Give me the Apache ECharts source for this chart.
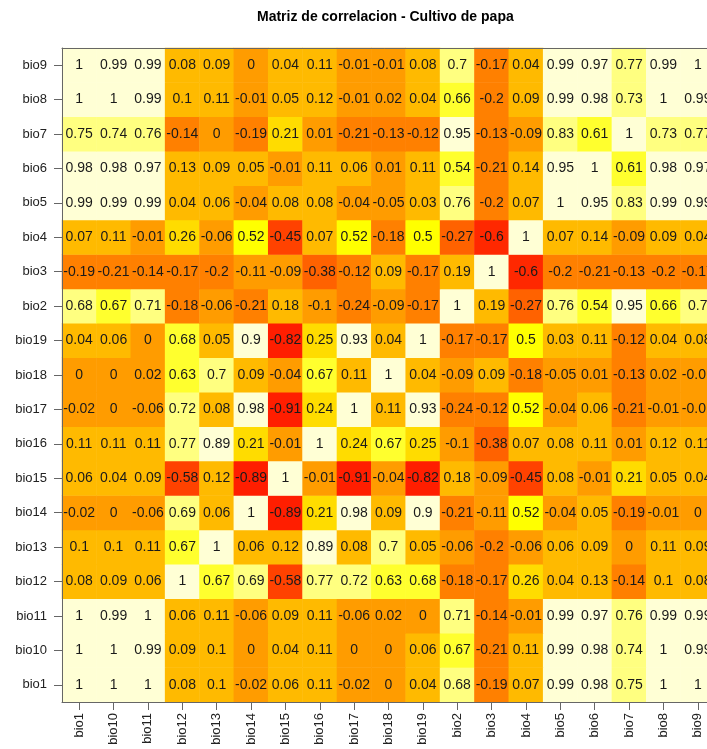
<!DOCTYPE html>
<html>
<head>
<meta charset="utf-8">
<script src="https://cdn.jsdelivr.net/npm/echarts@6/dist/echarts.min.js"></script>
<style>
html,body{margin:0;padding:0;background:#fff;}
#chart{width:707px;height:749px;}
</style>
</head>
<body>
<div id="chart"></div>
<script>
// Variable order (alphabetical, as in the reference); columns left->right, rows bottom->top
const categories = ['bio1','bio10','bio11','bio12','bio13','bio14','bio15','bio16','bio17','bio18','bio19','bio2','bio3','bio4','bio5','bio6','bio7','bio8','bio9'];

// Each row: correlations with the columns in `categories` order
const r_bio1  = [1, 1, 1, 0.08, 0.1, -0.02, 0.06, 0.11, -0.02, 0, 0.04, 0.683, -0.19, 0.07, 0.99, 0.98, 0.75, 1, 1];
const r_bio10 = [1, 1, 0.99, 0.09, 0.1, 0, 0.04, 0.11, 0, 0, 0.06, 0.67, -0.21, 0.11, 0.99, 0.98, 0.74, 1, 0.99];
const r_bio11 = [1, 0.99, 1, 0.06, 0.11, -0.06, 0.09, 0.11, -0.06, 0.02, 0, 0.71, -0.14, -0.01, 0.99, 0.97, 0.76, 0.99, 0.99];
const r_bio12 = [0.08, 0.09, 0.06, 1, 0.67, 0.69, -0.58, 0.77, 0.72, 0.63, 0.677, -0.18, -0.17, 0.26, 0.04, 0.13, -0.14, 0.1, 0.08];
const r_bio13 = [0.1, 0.1, 0.11, 0.67, 1, 0.06, 0.12, 0.89, 0.08, 0.7, 0.05, -0.06, -0.2, -0.06, 0.06, 0.09, 0, 0.11, 0.09];
const r_bio14 = [-0.02, 0, -0.06, 0.69, 0.06, 1, -0.89, 0.21, 0.98, 0.09, 0.9, -0.21, -0.11, 0.52, -0.04, 0.05, -0.19, -0.01, 0];
const r_bio15 = [0.06, 0.04, 0.09, -0.58, 0.12, -0.89, 1, -0.01, -0.91, -0.04, -0.82, 0.18, -0.09, -0.45, 0.08, -0.01, 0.21, 0.05, 0.04];
const r_bio16 = [0.11, 0.11, 0.11, 0.77, 0.89, 0.21, -0.01, 1, 0.24, 0.67, 0.25, -0.1, -0.38, 0.07, 0.08, 0.11, 0.01, 0.12, 0.11];
const r_bio17 = [-0.02, 0, -0.06, 0.72, 0.08, 0.98, -0.91, 0.24, 1, 0.11, 0.93, -0.24, -0.12, 0.52, -0.04, 0.06, -0.21, -0.01, -0.01];
const r_bio18 = [0, 0, 0.02, 0.63, 0.7, 0.09, -0.04, 0.67, 0.11, 1, 0.04, -0.09, 0.09, -0.18, -0.05, 0.01, -0.13, 0.02, -0.01];
const r_bio19 = [0.04, 0.06, 0, 0.677, 0.05, 0.9, -0.82, 0.25, 0.93, 0.04, 1, -0.17, -0.17, 0.5, 0.03, 0.11, -0.12, 0.04, 0.08];
const r_bio2  = [0.683, 0.67, 0.71, -0.18, -0.06, -0.21, 0.18, -0.1, -0.24, -0.09, -0.17, 1, 0.19, -0.27, 0.76, 0.54, 0.95, 0.66, 0.7];
const r_bio3  = [-0.19, -0.21, -0.14, -0.17, -0.2, -0.11, -0.09, -0.38, -0.12, 0.09, -0.17, 0.19, 1, -0.6, -0.2, -0.21, -0.13, -0.2, -0.17];
const r_bio4  = [0.07, 0.11, -0.01, 0.26, -0.06, 0.52, -0.45, 0.07, 0.52, -0.18, 0.5, -0.27, -0.6, 1, 0.07, 0.14, -0.09, 0.09, 0.04];
const r_bio5  = [0.99, 0.99, 0.99, 0.04, 0.06, -0.04, 0.08, 0.08, -0.04, -0.05, 0.03, 0.76, -0.2, 0.07, 1, 0.95, 0.83, 0.99, 0.99];
const r_bio6  = [0.98, 0.98, 0.97, 0.13, 0.09, 0.05, -0.01, 0.11, 0.06, 0.01, 0.11, 0.54, -0.21, 0.14, 0.95, 1, 0.61, 0.98, 0.97];
const r_bio7  = [0.75, 0.74, 0.76, -0.14, 0, -0.19, 0.21, 0.01, -0.21, -0.13, -0.12, 0.95, -0.13, -0.09, 0.83, 0.61, 1, 0.73, 0.77];
const r_bio8  = [1, 1, 0.99, 0.1, 0.11, -0.01, 0.05, 0.12, -0.01, 0.02, 0.04, 0.66, -0.2, 0.09, 0.99, 0.98, 0.73, 1, 0.99];
const r_bio9  = [1, 0.99, 0.99, 0.08, 0.09, 0, 0.04, 0.11, -0.01, -0.01, 0.08, 0.7, -0.17, 0.04, 0.99, 0.97, 0.77, 0.99, 1];

const rows = [r_bio1, r_bio10, r_bio11, r_bio12, r_bio13, r_bio14, r_bio15, r_bio16, r_bio17, r_bio18, r_bio19, r_bio2, r_bio3, r_bio4, r_bio5, r_bio6, r_bio7, r_bio8, r_bio9];

const data = [];
rows.forEach((row, yi) => row.forEach((v, xi) => data.push([xi, yi, v])));

function fmt(v){ const r = Math.round(v*100)/100; return String(r === 0 ? 0 : r); }

const chart = echarts.init(document.getElementById('chart'), null, {renderer:'canvas'});
const FONT = '"Liberation Sans", Arial, Helvetica, sans-serif';
chart.setOption({
  animation: false,
  backgroundColor: '#ffffff',
  title: {
    text: 'Matriz de correlacion - Cultivo de papa',
    left: 252, top: 5,
    textStyle: {fontFamily: FONT, fontSize: 14, fontWeight: 'bold', color: '#000'}
  },
  grid: {left: 62, top: 48, width: 653, height: 654, outerBoundsMode: 'none', containLabel: false},
  xAxis: [{
    type: 'category', data: categories, position: 'bottom', z: 10,
    axisLine: {show: true, lineStyle: {color: '#666', width: 1}},
    axisTick: {show: true, alignWithLabel: true, length: 8, lineStyle: {color: '#666'}},
    axisLabel: {rotate: 90, margin: 11, fontFamily: FONT, fontSize: 13, color: '#222', interval: 0},
    splitLine: {show: false}
  },{
    type: 'category', data: categories, position: 'top', z: 10,
    axisLine: {show: true, lineStyle: {color: '#666', width: 1}},
    axisTick: {show: false}, axisLabel: {show: false}, splitLine: {show: false}
  }],
  yAxis: {
    type: 'category', data: categories, z: 10,
    axisLine: {show: true, lineStyle: {color: '#666', width: 1}},
    axisTick: {show: true, alignWithLabel: true, length: 8, lineStyle: {color: '#666'}},
    axisLabel: {margin: 15, fontFamily: FONT, fontSize: 13, color: '#222', interval: 0},
    splitLine: {show: false}
  },
  visualMap: {
    type: 'piecewise', show: false, dimension: 2, seriesIndex: 0,
    pieces: [
      {lt: -0.75, color: '#FF1E00'},
      {gte: -0.75, lt: -0.59, color: '#FF2800'},
      {gte: -0.59, lt: -0.43, color: '#FF4200'},
      {gte: -0.43, lt: -0.25, color: '#FF6200'},
      {gte: -0.25, lt: -0.115, color: '#FF8000'},
      {gte: -0.115, lt: 0.025, color: '#FF9C00'},
      {gte: 0.025, lt: 0.2, color: '#FFBA00'},
      {gte: 0.2, lt: 0.36, color: '#FFDC00'},
      {gte: 0.36, lt: 0.521, color: '#FFFF00'},
      {gte: 0.521, lt: 0.68, color: '#FFFF2E'},
      {gte: 0.68, lt: 0.84, color: '#FFFF80'},
      {gte: 0.84, color: '#FFFFD5'}
    ]
  },
  series: [{
    type: 'heatmap',
    data: data,
    z: 2,
    itemStyle: {borderWidth: 0},
    label: {
      show: true, fontFamily: FONT, fontSize: 14, color: '#1a1a1a',
      formatter: p => fmt(p.value[2])
    },
    emphasis: {disabled: true}
  }]
});
</script>
</body>
</html>
